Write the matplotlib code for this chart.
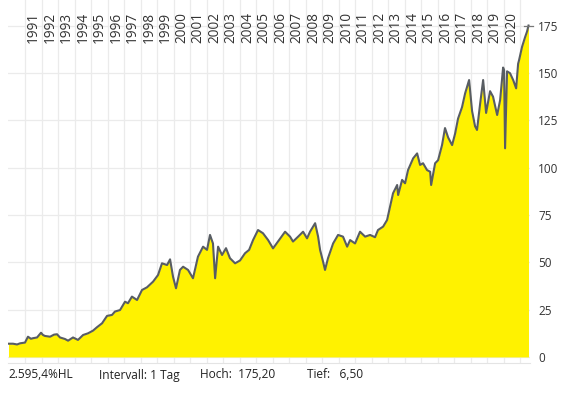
import matplotlib
matplotlib.use("Agg")
import matplotlib.pyplot as plt
import matplotlib.transforms as mtransforms

plt.rcParams['font.family'] = ['Open Sans', 'DejaVu Sans']

# time in decimal years, price
dates = [1990.00, 1990.27, 1990.52, 1990.70, 1991.00, 1991.18, 1991.36, 1991.48, 1991.73, 1991.97,
         1992.09, 1992.21, 1992.52, 1992.76, 1992.94, 1993.12, 1993.42, 1993.61, 1993.91, 1994.21,
         1994.52, 1994.82, 1995.12, 1995.36, 1995.67, 1995.97, 1996.27, 1996.45, 1996.76, 1997.06,
         1997.24, 1997.48, 1997.79, 1998.09, 1998.39, 1998.76, 1999.06, 1999.30, 1999.61, 1999.79,
         1999.97, 2000.15, 2000.39, 2000.58, 2000.88, 2001.18, 2001.48, 2001.79, 2002.03, 2002.21,
         2002.39, 2002.52, 2002.70, 2002.94, 2003.18, 2003.42, 2003.73, 2004.03, 2004.33, 2004.58,
         2004.82, 2005.12, 2005.42, 2005.73, 2006.03, 2006.33, 2006.76, 2007.06, 2007.24, 2007.55,
         2007.85, 2008.09, 2008.27, 2008.58, 2008.76, 2008.88, 2009.06, 2009.18, 2009.36, 2009.67,
         2009.97, 2010.27, 2010.52, 2010.70, 2011.00, 2011.30, 2011.61, 2011.91, 2012.21, 2012.39,
         2012.70, 2012.94, 2013.12, 2013.30, 2013.55, 2013.61, 2013.85, 2014.03, 2014.21, 2014.52,
         2014.76, 2014.94, 2015.12, 2015.36, 2015.55, 2015.61, 2015.85, 2016.03, 2016.27, 2016.45,
         2016.64, 2016.88, 2017.06, 2017.24, 2017.48, 2017.67, 2017.91, 2018.09, 2018.27, 2018.39,
         2018.58, 2018.76, 2018.94, 2019.18, 2019.36, 2019.61, 2019.79, 2019.97, 2020.03, 2020.09,
         2020.21, 2020.39, 2020.58, 2020.76, 2020.88, 2020.94, 2021.12, 2021.30, 2021.42, 2021.51]
prices = [7.0, 7.0, 6.6, 7.2, 7.6, 10.7, 9.6, 9.9, 10.3, 12.8,
          11.6, 11.1, 10.7, 11.8, 12.0, 10.3, 9.5, 8.6, 10.3, 9.0,
          11.6, 12.5, 13.9, 15.7, 17.8, 21.7, 22.2, 24.0, 24.8, 29.2,
          28.4, 31.9, 30.1, 35.4, 36.8, 39.8, 43.3, 49.5, 48.6, 51.6,
          42.4, 36.3, 46.0, 47.7, 46.0, 41.6, 53.0, 58.3, 56.6, 64.5,
          60.0, 41.6, 58.3, 53.9, 57.5, 52.2, 49.5, 51.0, 54.8, 56.6,
          61.8, 67.1, 65.4, 61.8, 57.4, 61.0, 66.2, 63.6, 61.0, 63.6,
          66.2, 62.7, 66.2, 70.7, 63.6, 56.6, 50.4, 46.0, 52.2, 60.0,
          64.5, 63.6, 58.3, 61.8, 60.0, 66.2, 63.6, 64.5, 63.3, 67.1,
          68.9, 72.4, 79.4, 86.5, 90.9, 85.6, 93.6, 91.8, 98.8, 105.0,
          107.6, 101.5, 102.4, 98.8, 97.9, 90.9, 102.4, 104.0, 112.0, 121.0,
          116.0, 112.0, 118.0, 126.0, 132.0, 139.4, 146.4, 130.0, 122.0, 120.0,
          134.0, 146.4, 129.0, 140.5, 137.6, 127.9, 135.8, 153.0, 151.7, 110.3,
          151.0, 150.0, 146.4, 142.0, 155.0, 157.0, 164.0, 169.0, 172.0, 175.2]

years = list(range(1991, 2022))
year_labels = [str(y) for y in range(1991, 2021)]
y_ticks = [0, 25, 50, 75, 100, 125, 150, 175]

fig = plt.figure(figsize=(5.66, 3.95), dpi=100)
ax = fig.add_axes([8 / 566, 1 - 363 / 395, (530 - 8) / 566, 363 / 395])

ax.fill_between(dates, prices, 0, color='#fff200', lw=0)
ax.plot(dates, prices, color='#585d63', lw=1.5)

ax.set_xlim(1989.97, 2021.6)
ax.set_ylim(-3.2, 188.7)

ax.set_xticks(years)
ax.set_xticklabels([])
ax.set_yticks(y_ticks)
ax.yaxis.tick_right()
ax.set_yticklabels([str(v) for v in y_ticks], fontsize=8.5, color='#333333')
ax.tick_params(axis='both', length=0)
ax.tick_params(axis='y', pad=6)
ax.grid(True, color='#ebebeb', lw=0.9)
ax.set_axisbelow(True)
for s in ['top', 'right', 'left']:
    ax.spines[s].set_visible(False)
ax.spines['bottom'].set_color('#e4e4e4')

# year labels at mid year, above data
trans = mtransforms.blended_transform_factory(ax.transData, ax.transAxes)
for y, lab in zip(range(1991, 2021), year_labels):
    ax.text(y + 0.5, 1 - 12 / 363, lab, transform=trans, rotation=90,
            ha='center', va='top', fontsize=9.8, color='#333333')

# last price marker
ax.plot([dates[-1] - 0.3, 2021.8], [prices[-1], prices[-1]], color='#777777',
        lw=0.9, clip_on=False)

fs = 8.6
ty = 1 - 375 / 395
fig.text(8 / 566, ty, '2.595,4%HL', fontsize=fs, va='center', color='#222222')
fig.text(99 / 566, ty, 'Intervall: 1 Tag', fontsize=fs, va='center', color='#222222')
fig.text(200 / 566, ty, 'Hoch:  175,20', fontsize=fs, va='center', color='#222222')
fig.text(307 / 566, ty, 'Tief:   6,50', fontsize=fs, va='center', color='#222222')

fig.savefig('out.png', dpi=100)
